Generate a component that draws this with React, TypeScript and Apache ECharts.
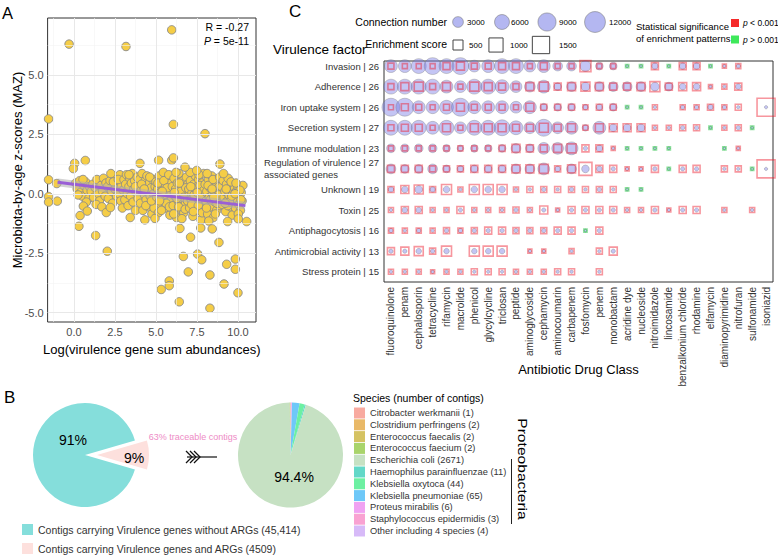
import React, { useEffect, useRef } from 'react';
import * as echarts from 'echarts';

const FONT = '"Liberation Sans", Arial, Helvetica, sans-serif';

// ---------------- Panel A data ----------------
const mazOutliers: number[][] = [
  [-0.3, 6.3], [3.17, 6.2], [5.96, 6.9], [-1.55, 3.15], [6.06, 2.92], [7.99, 2.53],
  [0.69, 1.4], [0.04, 1.28], [-0.04, 1.06], [4.02, 1.28], [5.16, 1.41], [5.96, 1.41], [6.06, 1.51], [6.77, 1.12], [7.48, 0.98], [8.9, 1.25],
  [-1.55, 0.59], [-1.55, -0.12], [-1.55, -0.35], [-1.05, 0.43], [-1.02, -0.31],
  [0.37, -0.92], [0.3, -1.37], [0.57, -0.52], [0.81, -0.73], [1.32, -1.76], [2.03, -2.42], [1.97, -0.79], [2.22, -0.58], [3.43, -1.0], [4.32, -1.1], [4.94, -1.04],
  [6.46, -1.46], [7.11, -1.83], [7.73, -1.44], [8.43, -1.48], [9.37, -1.17], [10.02, -1.06], [10.53, -1.17],
  [6.67, -2.64], [6.97, -3.29], [7.54, -2.54], [7.79, -2.78], [8.29, -3.42], [8.84, -2.05], [9.15, -3.8], [9.31, -2.97], [9.84, -2.75], [9.84, -3.18], [10.0, -4.17],
  [5.32, -4.03], [5.81, -3.67], [5.81, -3.87], [6.42, -4.55], [8.29, -4.82],
];
const mazCloud: number[][] = [
  [0.1, 0.45], [0.2, 0.2], [0.35, 0.55], [0.4, 0.05], [0.5, -0.1], [0.6, 0.35], [0.7, 0.5], [0.8, 0.15], [0.9, -0.2], [0.95, 0.3], [0.25, -0.05], [0.55, 0.6], [0.75, -0.35],
  [1.05, 0.1], [1.15, 0.4], [1.2, -0.15], [1.3, 0.25], [1.4, 0.6], [1.5, 0.0], [1.55, -0.3], [1.65, 0.35], [1.75, 0.1], [1.8, 0.65], [1.9, -0.1], [1.95, 0.45], [1.35, -0.45], [1.7, -0.55],
  [2.05, 0.3], [2.1, -0.2], [2.2, 0.55], [2.3, 0.1], [2.35, -0.4], [2.45, 0.75], [2.5, 0.2], [2.6, -0.1], [2.65, 0.45], [2.75, 0.0], [2.8, 0.8], [2.85, -0.3], [2.9, 0.35], [2.95, -0.6], [2.4, 0.5], [2.7, 0.6], [2.25, 0.85],
  [3.0, 0.15], [3.05, 0.6], [3.1, -0.25], [3.15, 0.4], [3.2, 0.8], [3.25, 0.0], [3.3, -0.5], [3.35, 0.3], [3.4, 0.65], [3.45, -0.1], [3.5, 0.45], [3.55, 0.85], [3.6, -0.35], [3.65, 0.2], [3.7, 0.55], [3.75, -0.7], [3.8, 0.05], [3.85, 0.7], [3.9, -0.2], [3.95, 0.4], [3.35, 0.8], [3.75, 0.3],
  [4.0, 0.6], [4.05, -0.4], [4.1, 0.15], [4.15, 0.85], [4.2, -0.7], [4.25, 0.35], [4.3, -0.05], [4.35, 0.55], [4.4, -0.25], [4.45, 0.75], [4.5, 0.1], [4.55, -0.55], [4.6, 0.45], [4.65, -0.1], [4.7, 0.25], [4.75, -0.85], [4.8, 0.6], [4.85, 0.0], [4.9, -0.35], [4.95, 0.3], [4.12, 0.4], [4.38, -0.5], [4.62, 0.7], [4.88, -0.6], [4.28, 0.2], [4.72, -0.3],
  [5.0, 0.5], [5.05, -0.15], [5.1, 0.2], [5.15, -0.8], [5.2, 0.75], [5.25, 0.05], [5.3, -0.45], [5.35, 0.4], [5.4, -0.2], [5.45, 0.9], [5.5, 0.15], [5.55, -0.6], [5.6, 0.35], [5.65, -0.05], [5.7, 0.6], [5.75, -0.35], [5.8, 0.2], [5.85, -0.9], [5.9, 0.45], [5.95, -0.25], [5.12, 0.45], [5.33, -0.7], [5.48, 0.55], [5.62, -0.4], [5.78, 0.8], [5.92, 0.05], [5.22, -0.3], [5.68, 0.25], [5.38, 0.1], [5.82, -0.55],
  [6.0, 0.3], [6.05, -0.5], [6.1, 0.65], [6.15, -0.1], [6.2, 0.2], [6.25, -1.0], [6.3, 0.45], [6.35, -0.3], [6.4, 0.85], [6.45, 0.0], [6.5, -0.65], [6.55, 0.35], [6.6, -0.2], [6.65, 0.55], [6.7, -0.8], [6.75, 0.15], [6.8, -0.4], [6.85, 0.7], [6.9, -0.05], [6.95, 0.4], [6.08, -0.85], [6.22, 0.9], [6.38, -0.55], [6.52, 0.1], [6.68, -0.15], [6.82, 0.25], [6.12, 0.05], [6.42, 0.45], [6.58, -1.05], [6.78, -0.65], [6.92, -0.3], [6.28, -0.2],
  [7.0, 0.2], [7.05, -0.6], [7.1, 0.55], [7.15, -0.25], [7.2, 0.05], [7.25, -0.95], [7.3, 0.4], [7.35, -0.4], [7.4, 0.75], [7.45, -0.1], [7.5, 0.3], [7.55, -0.7], [7.6, 0.6], [7.65, -0.3], [7.7, 0.1], [7.75, -1.1], [7.8, 0.45], [7.85, -0.5], [7.9, 0.85], [7.95, -0.15], [7.08, 0.9], [7.18, -0.45], [7.32, -0.05], [7.42, 0.2], [7.58, -0.5], [7.68, 0.35], [7.82, -0.8], [7.92, 0.15], [7.28, -0.75], [7.52, 0.05], [7.72, -0.2], [7.12, 0.3], [7.62, 0.8],
  [8.0, 0.4], [8.05, -0.3], [8.1, 0.1], [8.15, -0.85], [8.2, 0.6], [8.25, -0.15], [8.3, 0.25], [8.35, -0.55], [8.4, 0.75], [8.45, -0.05], [8.5, -1.0], [8.55, 0.4], [8.6, -0.35], [8.65, 0.15], [8.7, -0.7], [8.75, 0.55], [8.8, -0.2], [8.85, 0.3], [8.9, -0.5], [8.95, 0.05], [8.08, -0.6], [8.18, 0.35], [8.32, -0.25], [8.48, 0.6], [8.58, 0.0], [8.72, -0.4], [8.88, 0.7], [8.22, -1.15], [8.42, 0.2], [8.62, -0.85], [8.82, -0.05], [8.12, 0.85], [8.52, -0.15],
  [9.0, 0.3], [9.05, -0.45], [9.1, 0.55], [9.15, -0.15], [9.2, 0.1], [9.25, -0.75], [9.3, 0.4], [9.35, -0.3], [9.4, 0.65], [9.45, -0.05], [9.5, 0.2], [9.55, -0.55], [9.6, 0.35], [9.65, -0.9], [9.7, 0.05], [9.75, -0.35], [9.8, 0.25], [9.85, -0.6], [9.9, 0.1], [9.95, -0.2], [10.0, 0.3], [10.05, -0.45], [10.1, -0.1], [10.15, -0.7], [10.2, 0.05], [10.25, -0.3], [10.3, 0.35], [9.12, 0.85], [9.38, -0.5], [9.58, 0.5], [9.72, -0.2], [9.88, 0.45], [10.02, -0.85], [10.18, -0.25], [9.28, 0.2], [9.48, -0.35], [10.12, 0.15], [9.22, -0.4], [9.62, -0.1], [9.82, 0.0],
];
const fitLine: number[][] = [[-1.0, 0.48], [10.45, -0.5]];
const xTicksA = [0, 2.5, 5, 7.5, 10];
const yTicksA = [-5, -2.5, 0, 2.5, 5];
const xMinorA = [-1.25, 1.25, 3.75, 6.25, 8.75];
const yMinorA = [-3.75, -1.25, 1.25, 3.75, 6.25];
const corrR = '-0.27';
const corrP = '5e-11';

// ---------------- Panel B data ----------------
const contigGroups = [
  'Contigs carrying Virulence genes without ARGs (45,414)',
  'Contigs carrying Virulence genes and ARGs (4509)',
];
const contigCounts = [45414, 4509];
const contigColors = ['#85dedb', '#fde0dd'];
const species = [
  'Citrobacter werkmanii (1)', 'Clostridium perfringens (2)', 'Enterococcus faecalis (2)', 'Enterococcus faecium (2)',
  'Escherichia coli (2671)', 'Haemophilus parainfluenzae (11)', 'Klebsiella oxytoca (44)', 'Klebsiella pneumoniae (65)',
  'Proteus mirabilis (6)', 'Staphylococcus epidermidis (3)', 'Other including 4 species (4)',
];
const speciesCounts = [1, 2, 2, 2, 2671, 11, 44, 65, 6, 3, 4];
const speciesColors = ['#f8aaa0', '#e9b968', '#d5c262', '#a9d46b', '#c6e1c3', '#62d8c8', '#6cf0a2', '#6ec8f8', '#f0a2f2', '#f9a2d2', '#d7baf8'];
const ecoliShareLabel = '94.4%';
const traceableLabel = '63% traceable contigs';

// ---------------- Panel C data ----------------
const drugClasses = ['fluoroquinolone', 'penam', 'cephalosporin', 'tetracycline', 'rifamycin', 'macrolide', 'phenicol', 'glycylcycline', 'triclosan', 'peptide', 'aminoglycoside', 'cephamycin', 'aminocoumarin', 'carbapenem', 'fosfomycin', 'penem', 'monobactam', 'acridine dye', 'nucleoside', 'nitroimidazole', 'lincosamide', 'benzalkonium chloride', 'rhodamine', 'elfamycin', 'diaminopyrimidine', 'nitrofuran', 'sulfonamide', 'isoniazid'];
const virulenceFactors = ['Invasion', 'Adherence', 'Iron uptake system', 'Secretion system', 'Immune modulation', 'Regulation of virulence\nassociated genes', 'Unknown', 'Toxin', 'Antiphagocytosis', 'Antimicrobial activity', 'Stress protein'];
const factorCounts = [26, 26, 26, 27, 23, 27, 19, 25, 16, 13, 15];

const connInvasion = [4400, 4400, 6000, 7800, 6000, 7800, 3650, 4400, 6000, 6000, 3650, 4400, 2400, 2400, 3000, 1400, 1400, 20, 20, 950, 20, 950, 950, 20, 50, 250];
const connAdherence = [6000, 6000, 6000, 6000, 4400, 3650, 6000, 6000, 5150, 3650, 3000, 4400, 1400, 2400, 1850, 2400, 2400, 2400, 2400, 1850, 1850, 950, 950, 50, 50, 600];
const connIron = [8800, 8800, 4400, 4400, 5150, 8800, 4400, 4400, 4400, 3650, 4400, 1400, 1400, 1400, 600, 950, 1400, 20, 20, 50, null, 250, 250, 600, 250, 50, null, 50];
const connSecretion = [6000, 6000, 6000, 4400, 6000, 3650, 6000, 6000, 6850, 5150, 3650, 7800, 3650, 4400, 950, 4400, 1400, 1400, 1400, 50, 50, 250, 250, 20, 50, 250, 20];
const connImmune = [1850, 1850, 1850, 1850, 1400, 950, 1400, 1400, 1400, 2400, 1850, 3650, 3650, 4400, 250, 950, 50, 20, 20, 20, 20, null, null, null, 20, 50];
const connRegulation = [2400, 1850, 1850, 2400, 1400, 950, 1400, 1400, 1400, 2400, 2400, 3650, 600, 2400, 1400, 600, 250, 50, 50, 250, 20, 250, 250, null, 50, 50, 20, 50];
const connUnknown = [600, 950, 1400, 600, 950, 50, 950, 950, 950, 50, 50, 250, 50, 250, 50, 250, 50, 20, 20];
const connToxin = [50, 600, 600, 50, 50, 250, 50, 50, 50, 250, 50, 250, 50, 250, 250, 250, 250, 50, 50, 250, 50, 250, 250, null, 50, null, 50];
const connAntiphago = [250, 50, 250, 50, 250, 250, 250, 250, 250, 250, 250, 250, 250, 250, 20, 250];
const connAntimicrobial = [250, 250, 600, 250, 600, null, 600, 600, 600, null, 50, 50, null, 50, null, 50, 250];
const connStress = [50, 50, 50, 50, 50, 50, 50, 50, 50, 50, 50, 50, 50, 50, null, 50];

const enrInvasion = [180, 125, 125, 125, 245, 320, 180, 180, 245, 245, 125, 245, 125, 125, 605, 125, 125, 45, 45, 245, 45, 245, 245, 45, 80, 125];
const enrAdherence = [180, 320, 405, 180, 320, 125, 405, 320, 245, 180, 320, 405, 245, 320, 405, 320, 245, 245, 320, 500, 245, 320, 320, 80, 125, 245];
const enrIron = [125, 245, 180, 125, 180, 320, 180, 180, 180, 125, 320, 180, 180, 180, 125, 180, 180, 45, 45, 125, null, 125, 125, 180, 125, 180, null, 1620];
const enrSecretion = [180, 245, 245, 125, 320, 125, 320, 320, 320, 245, 245, 405, 245, 320, 125, 320, 320, 320, 320, 125, 125, 180, 180, 45, 125, 180, 45];
const enrImmune = [125, 125, 125, 125, 125, 125, 125, 125, 180, 320, 245, 245, 320, 405, 245, 245, 80, 45, 45, 45, 45, null, null, null, 45, 80];
const enrRegulation = [245, 245, 245, 180, 180, 180, 245, 245, 245, 320, 320, 405, 180, 320, 845, 245, 245, 80, 80, 245, 45, 245, 245, null, 180, 180, 45, 1620];
const enrUnknown = [180, 320, 405, 180, 500, 125, 500, 500, 500, 125, 180, 180, 180, 180, 180, 180, 180, 45, 45];
const enrToxin = [125, 245, 245, 125, 125, 245, 125, 125, 125, 180, 125, 320, 80, 245, 245, 245, 245, 125, 125, 245, 80, 245, 245, null, 125, null, 125];
const enrAntiphago = [125, 125, 125, 125, 180, 125, 180, 245, 245, 180, 180, 180, 245, 245, 45, 245];
const enrAntimicrobial = [245, 320, 405, 180, 500, null, 500, 500, 500, null, 80, 80, null, 125, null, 180, 320];
const enrStress = [125, 125, 125, 80, 125, 125, 180, 180, 180, 125, 125, 125, 180, 180, null, 180];

// column indices whose enrichment pattern is p > 0.001 (green)
const notSigInvasion = [17, 18, 20, 23];
const notSigAdherence: number[] = [];
const notSigIron = [17, 18];
const notSigSecretion = [23, 26];
const notSigImmune = [17, 18, 19, 20, 24];
const notSigRegulation = [20, 26];
const notSigUnknown = [17, 18];
const notSigToxin: number[] = [];
const notSigAntiphago = [14];
const notSigAntimicrobial: number[] = [];
const notSigStress: number[] = [];

const connLegendValues = [3000, 6000, 9000, 12000];
const enrLegendValues = [500, 1000, 1500];

const connRows = [connInvasion, connAdherence, connIron, connSecretion, connImmune, connRegulation, connUnknown, connToxin, connAntiphago, connAntimicrobial, connStress];
const enrRows = [enrInvasion, enrAdherence, enrIron, enrSecretion, enrImmune, enrRegulation, enrUnknown, enrToxin, enrAntiphago, enrAntimicrobial, enrStress];
const notSigRows = [notSigInvasion, notSigAdherence, notSigIron, notSigSecretion, notSigImmune, notSigRegulation, notSigUnknown, notSigToxin, notSigAntiphago, notSigAntimicrobial, notSigStress];

const circleD = (c: number) => Math.sqrt(9 + 0.0355 * c);
const squareS = (e: number) => Math.sqrt(0.2 * e);

const CIRCLE_FILL = 'rgba(112,116,228,0.52)';
const CIRCLE_STROKE = 'rgba(110,110,110,0.5)';
const RED_STROKE = 'rgba(238,28,45,0.58)';
const GREEN_STROKE = 'rgba(40,200,70,0.65)';

function buildOption() {
  const circleData: number[][] = [];
  const redData: number[][] = [];
  const greenData: number[][] = [];
  connRows.forEach((row, r) => row.forEach((c, k) => { if (c != null) circleData.push([k, r, c]); }));
  enrRows.forEach((row, r) => row.forEach((e, k) => {
    if (e == null) return;
    (notSigRows[r].includes(k) ? greenData : redData).push([k, r, e]);
  }));

  const factorLabels = virulenceFactors.map((f, i) => {
    const lines = f.split('\n');
    return lines[0] + ' | ' + factorCounts[i] + (lines[1] ? '\n' + lines[1] : '');
  });

  const totalContigs = contigCounts.reduce((a, b) => a + b, 0);
  const fracArg = contigCounts[1] / totalContigs;
  const pctLabels = contigCounts.map((c) => Math.round((c / totalContigs) * 100) + '%');

  const txt = (text: string, x: number, y: number, size: number, extra: any = {}) => ({
    type: 'text', x, y, silent: true, z: 100,
    style: { text, fontSize: size, fontFamily: FONT, fill: '#000', textAlign: 'left', textVerticalAlign: 'middle', ...extra },
  });

  const graphics: any[] = [
    txt('A', 2, 12.5, 16.5),
    txt('B', 4, 397, 17),
    txt('C', 289, 11, 17),
    txt('R = ' + corrR, 249, 27, 10.5, { textAlign: 'right' }),
    txt('{i|P} = ' + corrP, 249, 41, 10.5, { textAlign: 'right', rich: { i: { fontStyle: 'italic', fontSize: 10.5, fontFamily: FONT } } }),
    // Panel C frame
    { type: 'rect', silent: true, z: 1, shape: { x: 384, y: 61, width: 389, height: 221 }, style: { fill: 'none', stroke: '#333', lineWidth: 1 } },
    txt('Virulence factor', 273, 49, 13.5),
    txt('Connection number', 447, 22, 10.5, { textAlign: 'right' }),
    txt('Enrichment score', 447, 44, 10.5, { textAlign: 'right' }),
    txt('Statistical significance', 636, 26, 9.5),
    txt('of enrichment patterns', 636, 38.5, 9.5),
    { type: 'rect', silent: true, z: 100, shape: { x: 731, y: 19, width: 8, height: 8 }, style: { fill: '#f52a2a' } },
    { type: 'rect', silent: true, z: 100, shape: { x: 731, y: 35.5, width: 8, height: 8 }, style: { fill: '#3ee85a' } },
    txt('{i|p} < 0.001', 743, 23, 8.5, { rich: { i: { fontStyle: 'italic', fontSize: 8.5, fontFamily: FONT } } }),
    txt('{i|p} > 0.001', 743, 39.5, 8.5, { rich: { i: { fontStyle: 'italic', fontSize: 8.5, fontFamily: FONT } } }),
    // Panel B annotations
    txt(pctLabels[0], 73, 440, 14, { textAlign: 'center' }),
    txt(pctLabels[1], 134, 458, 14, { textAlign: 'center' }),
    txt(ecoliShareLabel, 294, 477, 14, { textAlign: 'center' }),
    txt(traceableLabel, 193, 437, 9, { textAlign: 'center', fill: '#ee8cc6' }),
    txt('Species (number of contigs)', 353, 398, 10.5),
    { type: 'line', silent: true, z: 100, shape: { x1: 511.5, y1: 459, x2: 511.5, y2: 524 }, style: { stroke: '#222', lineWidth: 1 } },
    { type: 'text', silent: true, z: 100, x: 522, y: 469, rotation: -Math.PI / 2, scaleX: 1.25, style: { text: 'Proteobacteria', fontSize: 12.5, fontFamily: FONT, fill: '#000', textAlign: 'center', textVerticalAlign: 'middle' } },
    { type: 'line', silent: true, z: 100, shape: { x1: 187, y1: 457, x2: 217, y2: 457 }, style: { stroke: '#111', lineWidth: 1.2 } },
  ];
  [186, 190, 194].forEach((x) => graphics.push({ type: 'polyline', silent: true, z: 100, shape: { points: [[x, 451], [x + 6, 457], [x, 463]] }, style: { stroke: '#111', lineWidth: 1.3, fill: 'none' } }));

  const connLegendX = [458, 502, 547, 595];
  const connLegendTextX = [467, 511, 559, 609];
  connLegendValues.forEach((v, i) => {
    graphics.push({ type: 'circle', silent: true, z: 100, shape: { cx: connLegendX[i], cy: 22, r: circleD(v) / 2 }, style: { fill: CIRCLE_FILL, stroke: CIRCLE_STROKE, lineWidth: 1 } });
    graphics.push(txt(String(v), connLegendTextX[i], 22, 8));
  });
  const enrLegendX = [458, 496, 541];
  const enrLegendTextX = [469, 510, 559];
  enrLegendValues.forEach((v, i) => {
    const s = squareS(v);
    graphics.push({ type: 'rect', silent: true, z: 100, shape: { x: enrLegendX[i] - s / 2, y: 45 - s / 2, width: s, height: s }, style: { fill: '#fff', stroke: '#444', lineWidth: 1 } });
    graphics.push(txt(String(v), enrLegendTextX[i], 45, 8));
  });

  const gridLineSeries = {
    type: 'scatter', xAxisIndex: 0, yAxisIndex: 0, data: [], z: 1, silent: true,
    markLine: {
      silent: true, symbol: 'none', animation: false, label: { show: false }, emphasis: { disabled: true },
      data: [
        ...xMinorA.map((v) => ({ xAxis: v, lineStyle: { color: '#f3f3f3', width: 0.6, type: 'solid' } })),
        ...yMinorA.map((v) => ({ yAxis: v, lineStyle: { color: '#f3f3f3', width: 0.6, type: 'solid' } })),
        ...xTicksA.map((v) => ({ xAxis: v, lineStyle: { color: '#e8e8e8', width: 1, type: 'solid' } })),
        ...yTicksA.map((v) => ({ yAxis: v, lineStyle: { color: '#e8e8e8', width: 1, type: 'solid' } })),
      ],
    },
  };

  return {
    animation: false,
    backgroundColor: '#fff',
    textStyle: { fontFamily: FONT },
    graphic: { elements: graphics },
    legend: [
      {
        data: contigGroups, left: 22, top: 524, orient: 'vertical', padding: 0, itemWidth: 11, itemHeight: 11, itemGap: 8,
        icon: 'rect', selectedMode: false, textStyle: { fontSize: 10.5, color: '#333', fontFamily: FONT },
      },
      {
        data: species, left: 354, top: 407.5, orient: 'vertical', padding: 0, itemWidth: 11, itemHeight: 11, itemGap: 0.8,
        icon: 'rect', selectedMode: false, textStyle: { fontSize: 9.3, color: '#333', fontFamily: FONT },
      },
    ],
    grid: [
      { left: 47.6, top: 18, width: 208.4, height: 304, show: true, borderColor: '#333', borderWidth: 1, backgroundColor: 'transparent', containLabel: false, outerBoundsMode: 'none' },
      { left: 384, top: 55.8, width: 389, height: 226.2, show: false, containLabel: false, outerBoundsMode: 'none' },
    ],
    xAxis: [
      {
        gridIndex: 0, type: 'value', min: -1.61, max: 11.1,
        axisLine: { show: false }, splitLine: { show: false },
        axisTick: { show: true, customValues: xTicksA, length: 3, lineStyle: { color: '#333' } },
        axisLabel: { customValues: xTicksA, formatter: (v: number) => v.toFixed(1), fontSize: 11, color: '#4d4d4d', margin: 4 },
        name: 'Log(virulence gene sum abundances)', nameLocation: 'middle', nameGap: 21, nameMoveOverlap: false,
        nameTextStyle: { fontSize: 13, color: '#000' },
      },
      {
        gridIndex: 1, type: 'category', data: drugClasses,
        axisLine: { show: false }, splitLine: { show: false },
        axisTick: { alignWithLabel: true, length: 3, lineStyle: { color: '#333' } },
        axisLabel: { rotate: 90, fontSize: 10, color: '#333', margin: 5, interval: 0 },
        name: 'Antibiotic Drug Class', nameLocation: 'middle', nameGap: 81, nameMoveOverlap: false,
        nameTextStyle: { fontSize: 13, color: '#000' },
      },
    ],
    yAxis: [
      {
        gridIndex: 0, type: 'value', min: -5.4, max: 7.4,
        axisLine: { show: false }, splitLine: { show: false },
        axisTick: { show: true, customValues: yTicksA, length: 3, lineStyle: { color: '#333' } },
        axisLabel: { customValues: yTicksA, formatter: (v: number) => v.toFixed(1), fontSize: 11, color: '#4d4d4d', margin: 4 },
        name: 'Microbiota-by-age z-scores (MAZ)', nameLocation: 'middle', nameGap: 24, nameRotate: 90, nameMoveOverlap: false,
        nameTextStyle: { fontSize: 13, color: '#000' },
      },
      {
        gridIndex: 1, type: 'category', data: factorLabels, inverse: true,
        axisLine: { show: false }, splitLine: { show: false },
        axisTick: { alignWithLabel: true, length: 3, lineStyle: { color: '#333' } },
        axisLabel: {
          fontSize: 9.5, color: '#333', margin: 5, interval: 0,
          formatter: (v: string) => (v.includes('\n') ? v.split('\n').map((l) => '{l|' + l + '}').join('\n') : v),
          rich: { l: { align: 'left', fontSize: 9.5, lineHeight: 12, color: '#333', fontFamily: FONT } },
        },
      },
    ],
    series: [
      gridLineSeries,
      {
        type: 'scatter', xAxisIndex: 0, yAxisIndex: 0, z: 2, silent: true,
        data: [...mazCloud, ...mazOutliers], symbolSize: 8.5,
        itemStyle: { color: '#f5cd46', borderColor: '#8a8a8a', borderWidth: 0.9, opacity: 1 },
      },
      {
        type: 'line', xAxisIndex: 0, yAxisIndex: 0, z: 3, silent: true, data: fitLine, symbol: 'none',
        lineStyle: { color: 'rgba(175,175,175,0.55)', width: 8 },
      },
      {
        type: 'line', xAxisIndex: 0, yAxisIndex: 0, z: 4, silent: true, data: fitLine, symbol: 'none',
        lineStyle: { color: '#9a5fd6', width: 3 },
      },
      {
        type: 'scatter', xAxisIndex: 1, yAxisIndex: 1, z: 2, silent: true, data: circleData,
        symbol: 'circle', symbolSize: (v: number[]) => circleD(v[2]),
        itemStyle: { color: CIRCLE_FILL, borderColor: CIRCLE_STROKE, borderWidth: 0.8 },
      },
      {
        type: 'scatter', xAxisIndex: 1, yAxisIndex: 1, z: 3, silent: true, data: redData,
        symbol: 'rect', symbolSize: (v: number[]) => squareS(v[2]),
        itemStyle: { color: 'rgba(0,0,0,0)', borderColor: RED_STROKE, borderWidth: 1.6 },
      },
      {
        type: 'scatter', xAxisIndex: 1, yAxisIndex: 1, z: 3, silent: true, data: greenData,
        symbol: 'rect', symbolSize: (v: number[]) => squareS(v[2]),
        itemStyle: { color: 'rgba(0,0,0,0)', borderColor: GREEN_STROKE, borderWidth: 1.8 },
      },
      {
        type: 'pie', center: [85, 455], radius: 52, startAngle: 360 - fracArg * 180, clockwise: true,
        selectedMode: 'single', selectedOffset: 12, silent: true, z: 2,
        label: { show: false }, labelLine: { show: false }, emphasis: { disabled: true },
        data: contigGroups.map((n, i) => ({ name: n, value: contigCounts[i], selected: i === 1, itemStyle: { color: contigColors[i], borderWidth: 0 } })),
      },
      {
        type: 'pie', center: [290.5, 455], radius: 52.5, startAngle: 90, clockwise: true, silent: true, z: 2,
        label: { show: false }, labelLine: { show: false }, emphasis: { disabled: true },
        data: species.map((n, i) => ({ name: n, value: speciesCounts[i], itemStyle: { color: speciesColors[i], borderWidth: 0 } })).reverse(),
      },
    ],
  };
}

export default function App() {
  const ref = useRef<HTMLDivElement>(null);
  useEffect(() => {
    const chart = echarts.init(ref.current!, null, { renderer: 'svg' });
    chart.setOption(buildOption() as any);
    return () => chart.dispose();
  }, []);
  return <div ref={ref} style={{ position: 'absolute', left: 0, top: 0, width: 778, height: 557, background: '#fff' }} />;
}
